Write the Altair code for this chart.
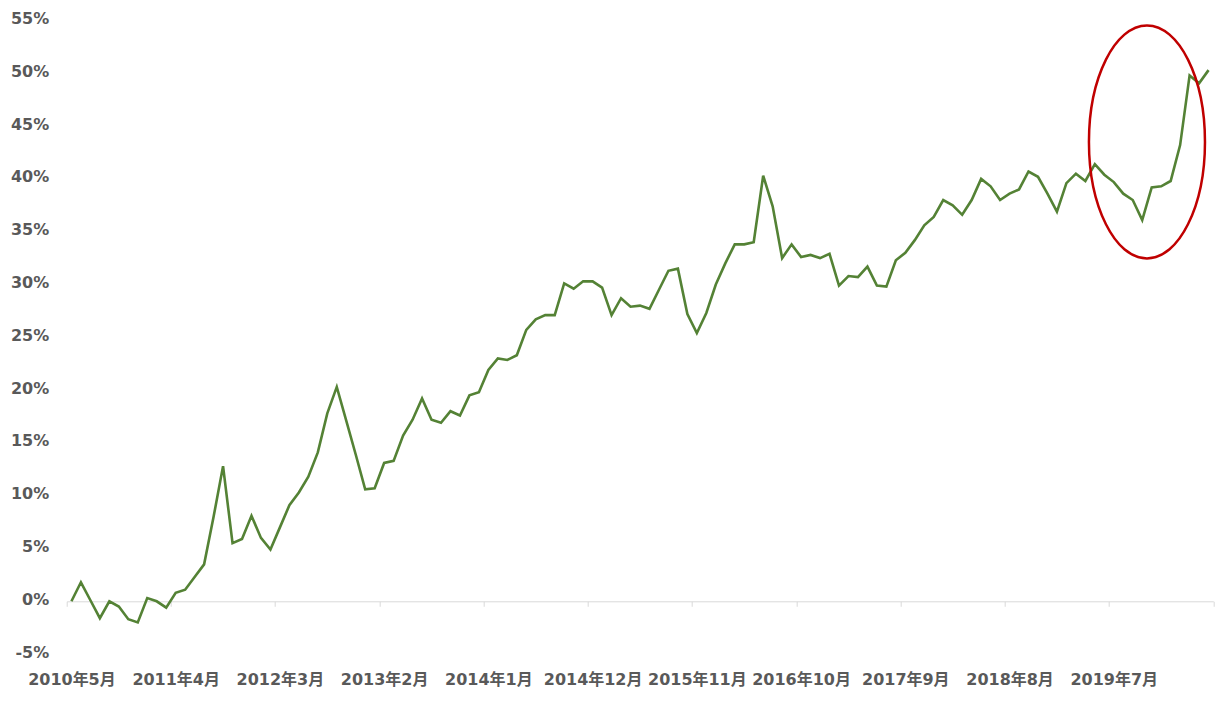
import json

import altair as alt
import pandas as pd

# cumulative return (%), monthly from 2010-05
values = [
    0.0, 1.8, 0.1, -1.6, 0.0, -0.5, -1.7, -2.0, 0.3, 0.0,
    -0.6, 0.8, 1.1, 2.3, 3.5, 8.0, 12.8, 5.5, 5.9, 8.1,
    6.0, 4.9, 7.0, 9.1, 10.3, 11.8, 14.1, 17.8, 20.3, 17.1,
    13.9, 10.6, 10.7, 13.1, 13.3, 15.7, 17.2, 19.2, 17.2, 16.9,
    18.0, 17.6, 19.5, 19.8, 21.9, 23.0, 22.85, 23.3, 25.7, 26.7,
    27.1, 27.1, 30.1, 29.6, 30.3, 30.3, 29.7, 27.1, 28.7, 27.9,
    28.0, 27.7, 29.5, 31.3, 31.5, 27.2, 25.4, 27.3, 30.0, 32.0,
    33.8, 33.8, 34.0, 40.3, 37.4, 32.5, 33.8, 32.6, 32.8, 32.5,
    32.9, 29.9, 30.8, 30.7, 31.7, 29.9, 29.8, 32.3, 33.0, 34.2,
    35.6, 36.4, 38.0, 37.5, 36.6, 38.0, 40.0, 39.3, 38.0, 38.6,
    39.0, 40.7, 40.2, 38.6, 36.9, 39.6, 40.5, 39.8, 41.4, 40.4,
    39.7, 38.6, 38.0, 36.1, 39.2, 39.3, 39.8, 43.2, 49.8, 49.05,
    50.3,
]

# month categories: 2010年5月 ...
months = []
yr, mo = 2010, 5
for _ in values:
    months.append(f"{yr}年{mo}月")
    mo += 1
    if mo > 12:
        mo, yr = 1, yr + 1

tick_labels = months[::11]
y_ticks = list(range(-5, 56, 5))

# highlighted region (ellipse centre, in data units)
ring_idx = [113.5]
ring_value = [43.5]

df = pd.DataFrame({"idx": range(len(values)), "month": months, "value": values})
ring_df = pd.DataFrame({"idx": ring_idx, "value": ring_value})

FONT = 'DejaVu Sans, "Noto Sans CJK SC", sans-serif'
GREY = "#595959"

x_scale = alt.Scale(domain=[-0.5, len(values) - 0.5], nice=False, zero=False)
y_scale = alt.Scale(domain=[-5, 55], nice=False, zero=False)

# ellipse as a custom symbol: x half-width 0.498, y half-height 1
ELLIPSE = ("M0,-1C0.275,-1 0.498,-0.552 0.498,0C0.498,0.552 0.275,1 0,1"
           "C-0.275,1 -0.498,0.552 -0.498,0C-0.498,-0.552 -0.275,-1 0,-1Z")

line = alt.Chart(df).mark_line(color="#548235", strokeWidth=2.6).encode(
    x=alt.X("idx:Q", scale=x_scale, title=None,
            axis=alt.Axis(orient="bottom", values=[i - 0.5 for i in range(0, len(values) + 1, 11)],
                          labels=False, grid=False, domainColor="#D9D9D9", domainWidth=1,
                          tickColor="#D9D9D9", tickSize=5, tickWidth=1, offset=-52.8)),
    y=alt.Y("value:Q", scale=y_scale, title=None,
            axis=alt.Axis(orient="left", values=y_ticks, labelExpr="datum.value + '%'",
                          domain=False, ticks=False, grid=False, labelPadding=18,
                          labelOffset=-2, labelFont=FONT, labelFontSize=16,
                          labelFontWeight="bold", labelColor=GREY)),
    tooltip=["month:N", "value:Q"],
)

ring = alt.Chart(ring_df).mark_point(
    shape=ELLIPSE, size=233 ** 2, filled=False, stroke="#C00000",
    strokeWidth=2.5, opacity=1
).encode(
    x=alt.X("idx:Q", scale=x_scale, title=None,
            axis=alt.Axis(orient="bottom", values=list(range(0, len(values), 11)),
                          labelExpr=json.dumps(tick_labels, ensure_ascii=False) + "[datum.value / 11]",
                          domain=False, ticks=False, grid=False, labelPadding=17,
                          labelFont=FONT, labelFontSize=16, labelFontWeight="bold",
                          labelColor=GREY)),
    y=alt.Y("value:Q", scale=y_scale, axis=None),
)

chart = alt.layer(line, ring).resolve_axis(x="independent", y="independent").properties(
    width=1146.6,
    height=633.6,
    autosize=alt.AutoSizeParams(type="none"),
    padding={"left": 58.7, "top": 12.5, "right": 4, "bottom": 40},
).configure_view(stroke=None)

chart.save("out.html", embed_options={"renderer": "svg", "actions": False})
